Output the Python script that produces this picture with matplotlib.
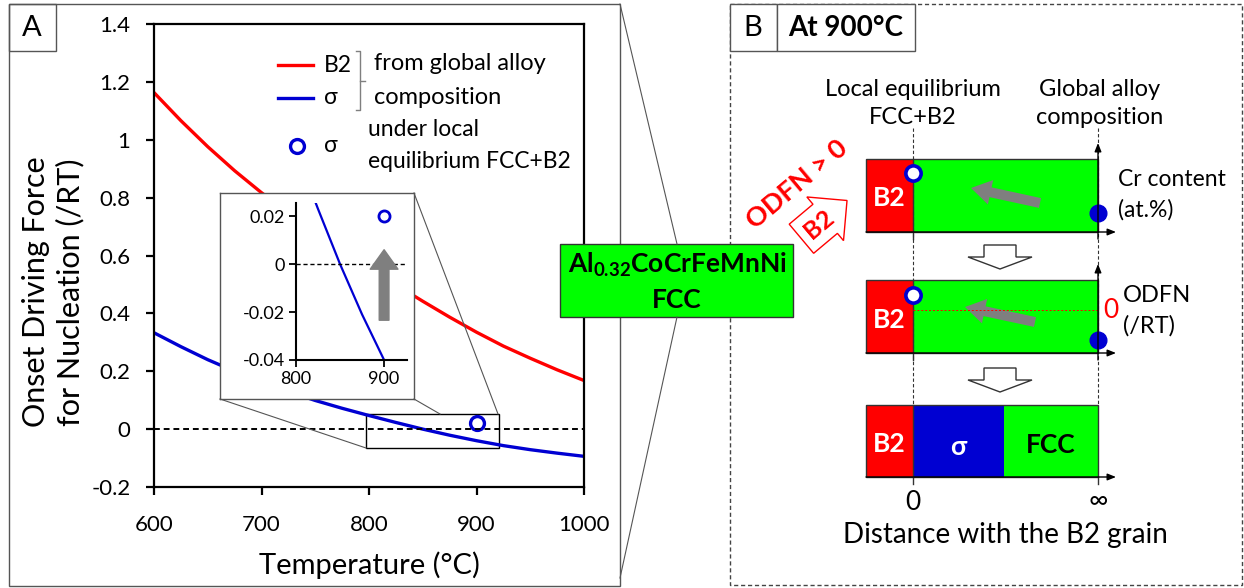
import matplotlib
matplotlib.use('Agg')
import matplotlib.pyplot as plt
from matplotlib.patches import Rectangle, FancyArrow
from matplotlib.lines import Line2D

plt.rcParams['font.family'] = ['Lato', 'DejaVu Sans']
plt.rcParams['mathtext.fontset'] = 'custom'
plt.rcParams['mathtext.rm'] = 'Lato'
plt.rcParams['mathtext.bf'] = 'Lato:bold'

# onset driving force for nucleation (/RT) vs temperature
temps = [600, 625, 650, 675, 700, 725, 750, 775, 800, 825, 850, 875, 900, 925, 950, 975, 1000]
odfn_b2 = [1.163, 1.066, 0.976, 0.893, 0.817, 0.747, 0.681, 0.618, 0.557, 0.499,
           0.442, 0.387, 0.335, 0.287, 0.245, 0.205, 0.168]
odfn_sigma = [0.333, 0.285, 0.240, 0.200, 0.164, 0.130, 0.099, 0.072, 0.047, 0.023,
              0.0, -0.021, -0.040, -0.057, -0.071, -0.083, -0.094]
local_temp = [900]
local_sigma = [0.02]

x_ticks = [600, 700, 800, 900, 1000]
y_ticks = [-0.2, 0, 0.2, 0.4, 0.6, 0.8, 1.0, 1.2, 1.4]
y_tick_labels = ['-0.2', '0', '0.2', '0.4', '0.6', '0.8', '1', '1.2', '1.4']
inset_x_ticks = [800, 900]
inset_y_ticks = [-0.04, -0.02, 0, 0.02]
inset_y_labels = ['-0.04', '-0.02', '0', '0.02']
zoom_x = (797, 921)
zoom_y = (-0.064, 0.053)

RED = '#ff0000'
BLUE = '#0000d2'
GREEN = '#00ff00'
GRAY = '#7f7f7f'
EDGE = '#555555'

W, H = 1244, 588
fig = plt.figure(figsize=(W / 100, H / 100), dpi=100)


def box(x0, y0, x1, y1):
    # pixel box (origin top-left) -> figure fraction rect
    return [x0 / W, 1 - y1 / H, (x1 - x0) / W, (y1 - y0) / H]


# ---- panel A: main plot
ax = fig.add_axes(box(154, 24, 584, 487), zorder=1)
ax.set_facecolor('none')
ax.plot(temps, odfn_b2, color=RED, lw=2.4)
ax.plot(temps, odfn_sigma, color=BLUE, lw=2.4)
ax.plot(local_temp, local_sigma, 'o', ms=10, mfc='none', mec=BLUE, mew=2.4)
ax.axhline(0, color='black', ls=(0, (3, 2)), lw=1.4)
ax.add_patch(Rectangle((zoom_x[0], zoom_y[0]), zoom_x[1] - zoom_x[0], zoom_y[1] - zoom_y[0],
                       fill=False, ec='black', lw=1))
ax.set_xlim(600, 1000)
ax.set_ylim(-0.2, 1.4)
ax.set_xticks(x_ticks)
ax.set_yticks(y_ticks)
ax.set_yticklabels(y_tick_labels)
for s in ax.spines.values():
    s.set_linewidth(1.6)
ax.tick_params(direction='out', length=6, width=1.6, labelsize=16)
ax.tick_params(axis='y', pad=11)
ax.tick_params(axis='x', pad=14)
ax.set_xlabel('Temperature (°C)', fontsize=21, labelpad=12)

# inset frame + inset
fr = fig.add_axes(box(220, 193, 414, 399), zorder=2)
fr.set_facecolor('white')
fr.set_xticks([])
fr.set_yticks([])
for s in fr.spines.values():
    s.set_color(EDGE)
    s.set_linewidth(1)

axi = fig.add_axes(box(296, 203, 407, 360), zorder=3)
axi.set_facecolor('none')
axi.plot(temps, odfn_sigma, color=BLUE, lw=1.6)
axi.plot(local_temp, local_sigma, 'o', ms=8, mfc='none', mec=BLUE, mew=2)
axi.axhline(0, color='black', ls=(0, (3, 2)), lw=1)
axi.annotate('', xy=(local_temp[0], 0.006), xytext=(local_temp[0], -0.0234),
             arrowprops=dict(arrowstyle='simple,head_length=14,head_width=20,tail_width=7',
                             mutation_scale=1, color=GRAY, shrinkA=0, shrinkB=0))
axi.set_xlim(800, 926)
axi.set_ylim(-0.04, 0.0255)
axi.set_xticks(inset_x_ticks)
axi.set_yticks(inset_y_ticks)
axi.set_yticklabels(inset_y_labels)
axi.spines['top'].set_visible(False)
axi.spines['right'].set_visible(False)
for s in ('left', 'bottom'):
    axi.spines[s].set_linewidth(1.5)
axi.tick_params(direction='out', length=5, width=1.3, labelsize=13, pad=3)

# ---- overlay canvas in pixel units for frames, legend and panel B sketch
cv = fig.add_axes([0, 0, 1, 1], zorder=4)
cv.set_xlim(0, W)
cv.set_ylim(H, 0)
cv.axis('off')
cv.set_facecolor('none')


def line(xs, ys, **kw):
    cv.add_line(Line2D(xs, ys, **kw))


def rect(x0, y0, x1, y1, **kw):
    cv.add_patch(Rectangle((x0, y0), x1 - x0, y1 - y0, **kw))


cv.text(53, 292, 'Onset Driving Force\nfor Nucleation (/RT)', fontsize=22, rotation=90,
        ha='center', va='center', linespacing=1.25)

# panel frames
rect(9, 4, 620, 586, fill=False, ec=EDGE, lw=1)
rect(9, 4, 56, 51, fill=False, ec=EDGE, lw=1)
cv.text(32, 28, 'A', fontsize=21, ha='center', va='center')
rect(730, 4, 1242, 585, fill=False, ec='#444444', lw=1, ls=(0, (3, 2)))
rect(730, 4, 777, 51, fc='white', ec=EDGE, lw=1)
rect(777, 4, 915, 51, fc='white', ec=EDGE, lw=1)
cv.text(753, 28, 'B', fontsize=21, ha='center', va='center')
cv.text(846, 28, 'At 900°C', fontsize=20, fontweight='bold', ha='center', va='center')

# zoom connectors
line([220, 366], [399, 448], color=EDGE, lw=0.8)
line([414, 498], [193, 414], color=EDGE, lw=0.8)
line([414, 440], [399, 414], color=EDGE, lw=0.8)
line([620, 677], [4, 244], color=EDGE, lw=0.8)
line([620, 677], [578, 317], color=EDGE, lw=0.8)

# legend
line([278, 313], [65, 65], color=RED, lw=2.4)
line([278, 313], [98, 98], color=BLUE, lw=2.4)
line([297], [146], marker='o', ms=10, mfc='none', mec=BLUE, mew=2.4)
cv.text(324, 65, 'B2', fontsize=16.5, va='center')
cv.text(324, 98, 'σ', fontsize=16.5, va='center')
cv.text(324, 146, 'σ', fontsize=16.5, va='center')
line([356, 360, 360, 356], [51, 51, 110, 110], color=GRAY, lw=1)
line([360, 365], [81, 81], color=GRAY, lw=1)
cv.text(374, 64, 'from global alloy', fontsize=17, va='center')
cv.text(374, 97, 'composition', fontsize=17, va='center')
cv.text(368, 130, 'under local', fontsize=16.5, va='center')
cv.text(368, 162, 'equilibrium FCC+B2', fontsize=16.5, va='center')

# alloy box
rect(560, 244, 793, 317, fc=GREEN, ec='#333333', lw=1)
cv.text(677, 265, r'Al$_{\mathbf{0.32}}$CoCrFeMnNi', fontsize=19, fontweight='bold',
        ha='center', va='center')
cv.text(677, 300, 'FCC', fontsize=19, fontweight='bold', ha='center', va='center')

# panel B sketch
xl, xb, xs, xr = 866, 913, 1004, 1098
rows = [(159, 232), (280, 353), (405, 477)]
line([xb, xb], [128, 405], color='#333333', lw=0.8, ls=(0, (3, 2)))
line([xr, xr], [128, 405], color='#333333', lw=0.8, ls=(0, (3, 2)))
for i, (t, b) in enumerate(rows):
    rect(xl, t, xb, b, fc=RED, ec='none')
    if i < 2:
        rect(xb, t, xr, b, fc=GREEN, ec='none')
    else:
        rect(xb, t, xs, b, fc=BLUE, ec='none')
        rect(xs, t, xr, b, fc=GREEN, ec='none')
    rect(xl, t, xr, b, fill=False, ec='#333333', lw=1)
    line([xb, xb], [t, b + 7], color='#333333', lw=1)
    cv.annotate('', xy=(1116, b), xytext=(xl, b),
                arrowprops=dict(arrowstyle='-|>,head_length=0.5,head_width=0.2',
                                color='black', lw=1, shrinkA=0, shrinkB=0))
    if i < 2:
        cv.annotate('', xy=(xr, t - 16), xytext=(xr, b + 7),
                    arrowprops=dict(arrowstyle='-|>,head_length=0.5,head_width=0.2',
                                    color='black', lw=1, shrinkA=0, shrinkB=0))
    else:
        line([xr, xr], [b, b + 7], color='#333333', lw=1)
    cv.text((xl + xb) / 2, (t + b) / 2 + 3, 'B2', fontsize=19, fontweight='bold',
            color='white', ha='center', va='center')

cv.text((xb + xs) / 2, 447, 'σ', fontsize=19, fontweight='bold', color='white',
        ha='center', va='center')
cv.text((xs + xr) / 2, 445, 'FCC', fontsize=19, fontweight='bold', color='black',
        ha='center', va='center')

# composition / ODFN markers
line([xb], [173], marker='o', ms=11, mfc='white', mec=BLUE, mew=2.6)
line([xb], [295], marker='o', ms=11, mfc='white', mec=BLUE, mew=2.6)
line([xr], [213], marker='o', ms=12, mfc=BLUE, mec=BLUE)
line([xr], [340], marker='o', ms=12, mfc=BLUE, mec=BLUE)
line([xb, xr], [310, 310], color=RED, lw=0.7, ls=(0, (2, 2)))
cv.text(1103, 310, '0', fontsize=19, color=RED, va='center')

cv.add_patch(FancyArrow(1040, 203, -69, -15, width=10, head_width=25, head_length=20,
                        length_includes_head=True, fc=GRAY, ec='none'))
cv.add_patch(FancyArrow(1035, 322, -70, -15, width=10, head_width=25, head_length=20,
                        length_includes_head=True, fc=GRAY, ec='none'))
for y0 in (245, 368):
    cv.add_patch(FancyArrow(1000, y0, 0, 24, width=32, head_width=64, head_length=12,
                            length_includes_head=True, fc='white', ec='#333333', lw=1))

cv.text(xb, 89, 'Local equilibrium', fontsize=17, ha='center', va='center')
cv.text(xb, 118, 'FCC+B2', fontsize=17, ha='center', va='center')
cv.text(1100, 89, 'Global alloy', fontsize=17, ha='center', va='center')
cv.text(1100, 118, 'composition', fontsize=17, ha='center', va='center')
cv.text(1118, 180, 'Cr content', fontsize=16.5, va='center')
cv.text(1118, 210, '(at.%)', fontsize=16.5, va='center')
cv.text(1123, 295, 'ODFN', fontsize=17, va='center')
cv.text(1123, 326, '(/RT)', fontsize=17, va='center')

cv.text(797, 184, 'ODFN > 0', fontsize=19.5, fontweight='bold', color=RED, rotation=40,
        ha='center', va='center', rotation_mode='anchor')
cv.text(819, 224, 'B2', fontsize=18, fontweight='bold', color=RED, rotation=40,
        ha='center', va='center', rotation_mode='anchor',
        bbox=dict(boxstyle='rarrow,pad=0.3', fc='white', ec=RED, lw=1))

cv.text(xb, 502, '0', fontsize=19, ha='center', va='center')
cv.text(xr, 500, '∞', fontsize=19, ha='center', va='center')
cv.text(1005, 535, 'Distance with the B2 grain', fontsize=20, ha='center', va='center')

fig.savefig('out.png', dpi=100)
